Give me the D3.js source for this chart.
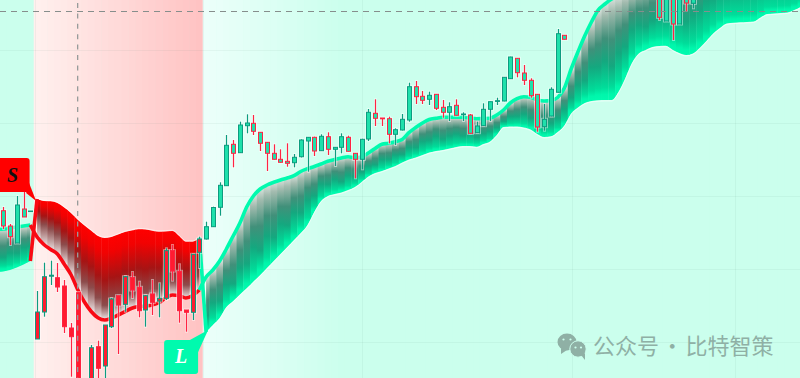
<!DOCTYPE html>
<html>
<head>
<meta charset="utf-8">
<script src="https://cdn.jsdelivr.net/npm/d3@7"></script>
<style>
html, body { margin: 0; padding: 0; background: #cbffed; overflow: hidden; }
svg { display: block; }
</style>
</head>
<body>
<div id="root"></div>
<script>
// candles, one per slot from 0, null where the bar is out of the frame
var open = [167.3,152,135,169,166.4,39,66,101.8,100.3,92,50,85.3,null,-10,31.3,12,51.3,82.3,73.7,100.3,90.7,68,84,77,79.7,127.3,106.7,68,65.7,125.7,
    139,151.3,170.7,192.3,233.7,225.3,252.3,254.7,245.7,235.7,224.7,218.7,216.7,215.3,221.3,237,240.7,227.3,241.3,228.7,230.7,240.7,224.7,218.7,239,264.7,260,259.3,243.7,
    248,258,291.3,281.7,278.7,283.7,270.7,265.7,272.7,263.3,263,245.3,252.3,268.7,276.6,277,299.3,319.7,305,297.7,283.7,251.3,262,285.7,342.7,
    null,null,null,null,null,null,null,null,null,null,null,null,null,395,357,395,354,395,374.7];
var close = [152,141.3,173,161,167,66,101.3,102.8,91,51.3,41.3,-20,null,30.3,9.7,53,79,73,101.3,88,67.3,82.3,75.7,79.7,127.3,107,67.3,65.7,123.7,139,
    151.3,170.5,192.7,232.7,224.7,253,255,246.7,234.7,224.7,218.7,215.7,214.7,220.7,238,240.7,227,241.7,228.7,230.7,241.3,226.7,218.7,238.7,265.7,259.7,259.2,243.7,248.3,
    258.7,291.3,281.3,277.7,282.7,269.7,265.7,271.3,262.7,264,244.7,252,268.7,276.3,277.3,300.7,321,305.3,297.7,282.3,251,258.7,288.7,344.3,338.7,
    null,null,null,null,null,null,null,null,null,null,null,null,null,360.7,395,354,395,375,395];
var high = [171,154,182,195,167,87,115.3,117.3,115,98,55,85.3,null,33,37.3,53,80,82.3,102,106,96.3,83,98,94.7,129.7,133,113.7,68,124,141.3,
    156.3,171.3,195.7,243,238,256.3,263.7,263,246,236,233.7,228.7,234.7,224,238.7,241,241.3,243.7,245.7,231,244.7,242.3,225,239.3,269,278.7,260,261.3,249.7,
    264,295.3,297,287,286.3,284,278,275.7,278.7,265.7,264,256.3,274.7,276.5,280.3,301,321.3,320,313,299.7,284,274,290.7,349,342.7,
    null,null,null,null,null,null,null,null,null,null,null,null,null,400,400,400,400,400,400];
var low = [149,133,135,161,166.4,39,61.3,93,86,45,1.3,-30,null,-15,-7,-7,50,24,66.3,80,60.7,51.3,63,60.7,78,97.3,55.3,46.3,58,110,
    138.5,151,162.3,192,210.7,225,244.7,243,227,207,218.5,215.5,211.3,210.7,220.5,206.3,222,227,223,212,224.7,226.5,199.7,208.7,237,252,252,234.7,233,
    247.5,256.3,274,274,273,268,260.3,257,262.5,257,244.5,245,252,257,273,276.7,299,300.7,293,280.3,246.3,247.3,261.7,285.5,338.7,
    null,null,null,null,null,null,null,null,null,null,null,null,null,358,357,338,354,367,369.7];

// cloud edges, one value per slot from -1 to 118
var bandUpper = [148.5,149,150,151,152,153,
    179,177,176.7,175,170.5,165,158.3,152.5,147.3,142,140,141,143.5,146,147.5,148.8,148.5,147.3,146.3,146.5,147,142,136.3,136.3,140.5,
    101,108,117,129,142,155,171,182,189,193,195.7,198,200,202.3,206.5,209.3,211.5,214,216.8,218.5,220,221.3,220.3,221,225,229.5,233.7,234.7,236.3,238.5,
    245.3,250.5,255,258.5,259.7,260.7,260.7,260.7,260.7,260,259.3,259.5,259.7,263,268,275,279.3,281.3,280.8,278,277,277.5,280.5,290,309,326,342,356,368,374,379,
    382,386,390,394,398,402,405,408,410,412,413,414,414,415,415,416,416,417,417,418,418,418,419,419,420,420,420,420];
var bandLower = [106,106.5,108,110.5,113.5,117,
    141,133.5,128.5,124,114,103.5,88.5,76,66.5,60.3,58,60,63,66.3,69.7,71.4,72,73,75.3,80,83,82.5,80,82.5,88,
    46,53,60,71,77,83.5,89.7,96.5,103,110,117,124,131,138,145,153,166,177,182,184,185.5,188,191,196,201.5,205,207,209.5,212,215.5,
    218.5,220.5,223,225.5,227,228,229.5,231,232,232,231.3,234,236.5,243,251,251.5,251.5,250.5,248.5,244,241,241.7,246,252.5,264.5,270.5,275,277,277.7,278,278,
    286,299.5,315,324.5,328,331,332,332.3,328.3,325,323,324.5,330,337,344.5,350,354.5,355.3,355.7,356,356.5,360.5,364,364.5,365,365.5,368,371.3];
// how far the dark part of each column reaches, same slots
var trendStrength = [.9,.95,.85,.92,.8,.85,
    .62,.66,.7,.74,.8,.78,.84,.9,.86,.92,1,.96,1,.94,1,.96,1,.95,.98,.92,.96,1,.94,.98,.9,
    1,.85,1,.88,1.05,.9,1,.86,1.02,.88,1,.85,.98,.82,.95,.8,.92,.78,.95,.82,.98,.8,.92,.85,.8,.95,.82,.9,.78,
    .92,.8,.95,.82,.9,.78,.95,.85,.8,.92,.82,.95,.85,.8,.9,.95,.82,.9,.8,.92,.85,.95,.9,.85,.8,.92,.85,.95,.82,.9,.85,
    .95,.85,.9,.8,.85,.95,.9,.85,.9,.8,.85,.9,.82,.78,.7,.72,.65,.68,.6,.62,.58,.6,.55,.58,.5,.52,.5,.5];
var firstBandSlot = -1;

// regime starts and axis ticks
var sellSlot = 5;
var buySlot = 30;
var priceTicks = [36, 109, 182, 255, 328];
var gridSlots = [4.7, 29.5, 53, 84.1, 108.2];
var crossSlot = 11;
var crossPrice = 366.6;
var signalLabels = ["S", "L"];
var watermark = "公众号 · 比特智策";

var width = 800,
    height = 378;

var x = d3.scaleLinear().domain([0, 118]).range([3.3, 801]);
var y = d3.scaleLinear().domain([0, 378]).range([height, 0]);
var step = x(1) - x(0);

var svg = d3.select("#root")
    .append("svg")
    .attr("width", width)
    .attr("height", height);
var defs = svg.append("defs");

var mint = "#cbffed";
var redBg = d3.scaleLinear().domain([sellSlot, buySlot - 1]).range(["#fff0ee", "#ffc3c3"]);
var greenBg = d3.scaleLinear().domain([buySlot, buySlot + 20]).range(["#ecfffa", mint]).clamp(true);

function isRed(s) {
    return s >= sellSlot && s < buySlot;
}

// background, one strip per slot
svg.append("g")
    .selectAll("rect")
    .data(d3.range(firstBandSlot, 119))
    .enter()
    .append("rect")
    .attr("x", function (s) { return x(s) - step / 2; })
    .attr("y", 0)
    .attr("width", step + 0.5)
    .attr("height", height)
    .attr("fill", function (s) {
        if (isRed(s)) return redBg(s);
        if (s < sellSlot) return mint;
        return greenBg(s);
    });

svg.append("g")
    .selectAll("line")
    .data(priceTicks)
    .enter()
    .append("line")
    .attr("x1", 0)
    .attr("x2", width)
    .attr("y1", function (d) { return Math.round(y(d)) + 0.5; })
    .attr("y2", function (d) { return Math.round(y(d)) + 0.5; })
    .attr("stroke", "#5a7a70")
    .attr("stroke-opacity", 0.07);

svg.append("g")
    .selectAll("line")
    .data(gridSlots)
    .enter()
    .append("line")
    .attr("x1", function (d) { return Math.round(x(d)) + 0.5; })
    .attr("x2", function (d) { return Math.round(x(d)) + 0.5; })
    .attr("y1", 0)
    .attr("y2", height)
    .attr("stroke", "#5a7a70")
    .attr("stroke-opacity", 0.07);

function upper(s) { return bandUpper[s - firstBandSlot]; }
function lower(s) { return bandLower[s - firstBandSlot]; }

var segments = [
    d3.range(firstBandSlot, sellSlot),
    d3.range(sellSlot, buySlot),
    d3.range(buySlot, 119)
];

var area = d3.area()
    .x(function (s) { return x(s); })
    .y0(function (s) { return y(lower(s)); })
    .y1(function (s) { return y(upper(s)); })
    .curve(d3.curveMonotoneX);

function greenStops(k) {
    return [
        [0, "#d6e0da"],
        [0.12, "#a3bbaf"],
        [0.42 * k, "#41907a"],
        [0.7 * k, "#14a87f"],
        [0.87, "#00dd9a"],
        [0.94, "#00f6ab"],
        [1, "#00faae"]
    ];
}

function redStops(k) {
    return [
        [0, "#ff0000"],
        [0.18 * k, "#f20202"],
        [0.52 * k, "#a61414"],
        [0.82 * k, "#8c4c4c"],
        [0.97, "#dfcfcf"],
        [1, "#ece0e0"]
    ];
}

var bandLayer = svg.append("g");

segments.forEach(function (slots, n) {
    // smooth the outer edges, the columns stay stepped inside
    defs.append("clipPath")
        .attr("id", "seg" + n)
        .append("path")
        .attr("d", area(slots));

    slots.forEach(function (s) {
        var id = "col" + (s - firstBandSlot);
        var grad = defs.append("linearGradient")
            .attr("id", id)
            .attr("gradientUnits", "userSpaceOnUse")
            .attr("x1", 0)
            .attr("x2", 0)
            .attr("y1", y(upper(s)))
            .attr("y2", y(lower(s)));
        var k = trendStrength[s - firstBandSlot];
        (isRed(s) ? redStops(k) : greenStops(k)).forEach(function (st) {
            grad.append("stop")
                .attr("offset", Math.min(st[0], 0.99))
                .attr("stop-color", st[1]);
        });
    });

    bandLayer.append("g")
        .attr("clip-path", "url(#seg" + n + ")")
        .selectAll("rect")
        .data(slots)
        .enter()
        .append("rect")
        .attr("x", function (s) { return x(s) - step / 2; })
        .attr("y", function (s) { return y(upper(s)) - 8; })
        .attr("width", step + 0.4)
        .attr("height", function (s) { return y(lower(s)) - y(upper(s)) + 16; })
        .attr("fill", function (s) { return "url(#col" + (s - firstBandSlot) + ")"; });
});

var line = d3.line()
    .x(function (d) { return x(d[0]); })
    .y(function (d) { return y(d[1]); })
    .curve(d3.curveMonotoneX);

function edge(slots, fn) {
    return slots.map(function (s) { return [s, fn(s)]; });
}

var greenLine = "#00faae";
var redLine = "#f80a14";

// white rim along the outer edges
svg.append("path")
    .attr("d", line(edge(segments[1], upper)))
    .attr("fill", "none")
    .attr("stroke", "#fff")
    .attr("stroke-opacity", 0.55)
    .attr("stroke-width", 1)
    .attr("transform", "translate(0,-0.8)");
svg.append("path")
    .attr("d", line(edge(segments[2], lower)))
    .attr("fill", "none")
    .attr("stroke", "#fff")
    .attr("stroke-opacity", 0.6)
    .attr("stroke-width", 1)
    .attr("transform", "translate(0,0.9)");

var fastLines = [
    { pts: edge(segments[0], upper), color: greenLine },
    { pts: [[sellSlot - 1, upper(sellSlot - 1)]].concat(edge(segments[1], lower)), color: redLine },
    { pts: [[buySlot - 1, lower(buySlot - 1)]].concat(edge(segments[2], upper)), color: greenLine }
];
var flipLines = [
    { pts: [[sellSlot - 1, lower(sellSlot - 1)], [sellSlot, upper(sellSlot)]], color: redLine },
    { pts: [[buySlot - 1, upper(buySlot - 1)], [buySlot, lower(buySlot)]], color: greenLine }
];

svg.append("g")
    .selectAll("path")
    .data(fastLines.concat(flipLines))
    .enter()
    .append("path")
    .attr("d", function (d) { return line(d.pts); })
    .attr("fill", "none")
    .attr("stroke", function (d) { return d.color; })
    .attr("stroke-width", 3.6)
    .attr("stroke-linejoin", "round");

// candles
var bars = d3.range(open.length).filter(function (i) { return open[i] !== null; });
var upColor = "#0d9c7f",
    downColor = "#ff2342",
    greenFill = "#1fe0ab",
    redFill = "#ff1c30";

function cx(i) { return Math.round(x(i)); }

var candle = svg.append("g")
    .selectAll("g")
    .data(bars)
    .enter()
    .append("g");

// pale halo first
candle.append("line")
    .attr("x1", function (i) { return cx(i) + 0.5; })
    .attr("x2", function (i) { return cx(i) + 0.5; })
    .attr("y1", function (i) { return y(high[i]) - 1; })
    .attr("y2", function (i) { return y(low[i]) + 1; })
    .attr("stroke", "#fff")
    .attr("stroke-opacity", 0.45)
    .attr("stroke-width", 3);
candle.append("rect")
    .attr("x", function (i) { return cx(i) - 2.5; })
    .attr("y", function (i) { return y(Math.max(open[i], close[i])) - 1; })
    .attr("width", 6)
    .attr("height", function (i) { return Math.abs(y(open[i]) - y(close[i])) + 2; })
    .attr("fill", "none")
    .attr("stroke", "#fff")
    .attr("stroke-opacity", 0.45)
    .attr("stroke-width", 1);

candle.append("line")
    .attr("x1", function (i) { return cx(i) + 0.5; })
    .attr("x2", function (i) { return cx(i) + 0.5; })
    .attr("y1", function (i) { return y(high[i]); })
    .attr("y2", function (i) { return y(low[i]); })
    .attr("stroke", function (i) { return close[i] >= open[i] ? upColor : downColor; })
    .attr("stroke-width", 1.2);
candle.append("rect")
    .attr("x", function (i) { return cx(i) - 1.5; })
    .attr("y", function (i) { return y(Math.max(open[i], close[i])); })
    .attr("width", 4)
    .attr("height", function (i) { return Math.max(Math.abs(y(open[i]) - y(close[i])), 0.5); })
    .attr("fill", function (i) { return isRed(i) ? redFill : greenFill; })
    .attr("stroke", function (i) { return close[i] >= open[i] ? upColor : downColor; })
    .attr("stroke-width", 1);

// signal tags, hung off the points where the cloud flips
var sx = x(sellSlot), sy = y(upper(sellSlot));
var lx = x(buySlot), ly = y(lower(buySlot));

svg.append("polygon")
    .attr("points", [[sx - 8, sy - 16], [sx - 11, sy - 6], [sx - 1, sy + 2]].join(" "))
    .attr("fill", "#ff0000");
svg.append("rect")
    .attr("x", -5)
    .attr("y", sy - 41)
    .attr("width", sx - 2.5)
    .attr("height", 34)
    .attr("rx", 3)
    .attr("fill", "#ff0000");
svg.append("text")
    .attr("x", 12.5)
    .attr("y", sy - 17)
    .attr("text-anchor", "middle")
    .attr("font-family", "Liberation Serif")
    .attr("font-weight", "bold")
    .attr("font-style", "italic")
    .attr("font-size", 20)
    .attr("fill", "#111")
    .text(signalLabels[0]);

svg.append("polygon")
    .attr("points", [[lx - 18, ly + 9], [lx - 8, ly + 20], [lx + 2, ly - 2]].join(" "))
    .attr("fill", "#00faae");
svg.append("rect")
    .attr("x", lx - 42)
    .attr("y", ly + 8)
    .attr("width", 34)
    .attr("height", 34)
    .attr("rx", 3)
    .attr("fill", "#00faae");
svg.append("text")
    .attr("x", lx - 25)
    .attr("y", ly + 31)
    .attr("text-anchor", "middle")
    .attr("font-family", "Liberation Serif")
    .attr("font-weight", "bold")
    .attr("font-style", "italic")
    .attr("font-size", 20)
    .attr("fill", "#fff")
    .text(signalLabels[1]);

// crosshair
svg.append("line")
    .attr("x1", 0)
    .attr("x2", width)
    .attr("y1", Math.round(y(crossPrice)) + 0.5)
    .attr("y2", Math.round(y(crossPrice)) + 0.5)
    .attr("stroke", "#868e8c")
    .attr("stroke-dasharray", "6,5");
svg.append("line")
    .attr("x1", x(crossSlot))
    .attr("x2", x(crossSlot))
    .attr("y1", 3)
    .attr("y2", height)
    .attr("stroke", "#979c9b")
    .attr("stroke-width", 1.3)
    .attr("stroke-dasharray", "5,5.4");

// watermark
var mark = svg.append("g").attr("fill", "#8fb0a5");
mark.append("ellipse").attr("cx", 567).attr("cy", 342).attr("rx", 9.5).attr("ry", 8.5);
mark.append("polygon").attr("points", "561,348 561,354 567,350");
mark.append("circle").attr("cx", 578).attr("cy", 349).attr("r", 8.2)
    .attr("stroke", mint).attr("stroke-width", 1);
mark.append("polygon").attr("points", "581,355 585,360 585,353");
[[563.5, 339.5], [570.5, 339.5], [575.5, 347.5], [581, 347.5]].forEach(function (p) {
    mark.append("circle").attr("cx", p[0]).attr("cy", p[1]).attr("r", 1.1).attr("fill", mint);
});

svg.append("text")
    .attr("x", 593)
    .attr("y", 354)
    .attr("font-family", "Noto Sans CJK SC")
    .attr("font-size", 22)
    .attr("word-spacing", -2.7)
    .attr("fill", "#8fb0a5")
    .text(watermark);
</script>
</body>
</html>
